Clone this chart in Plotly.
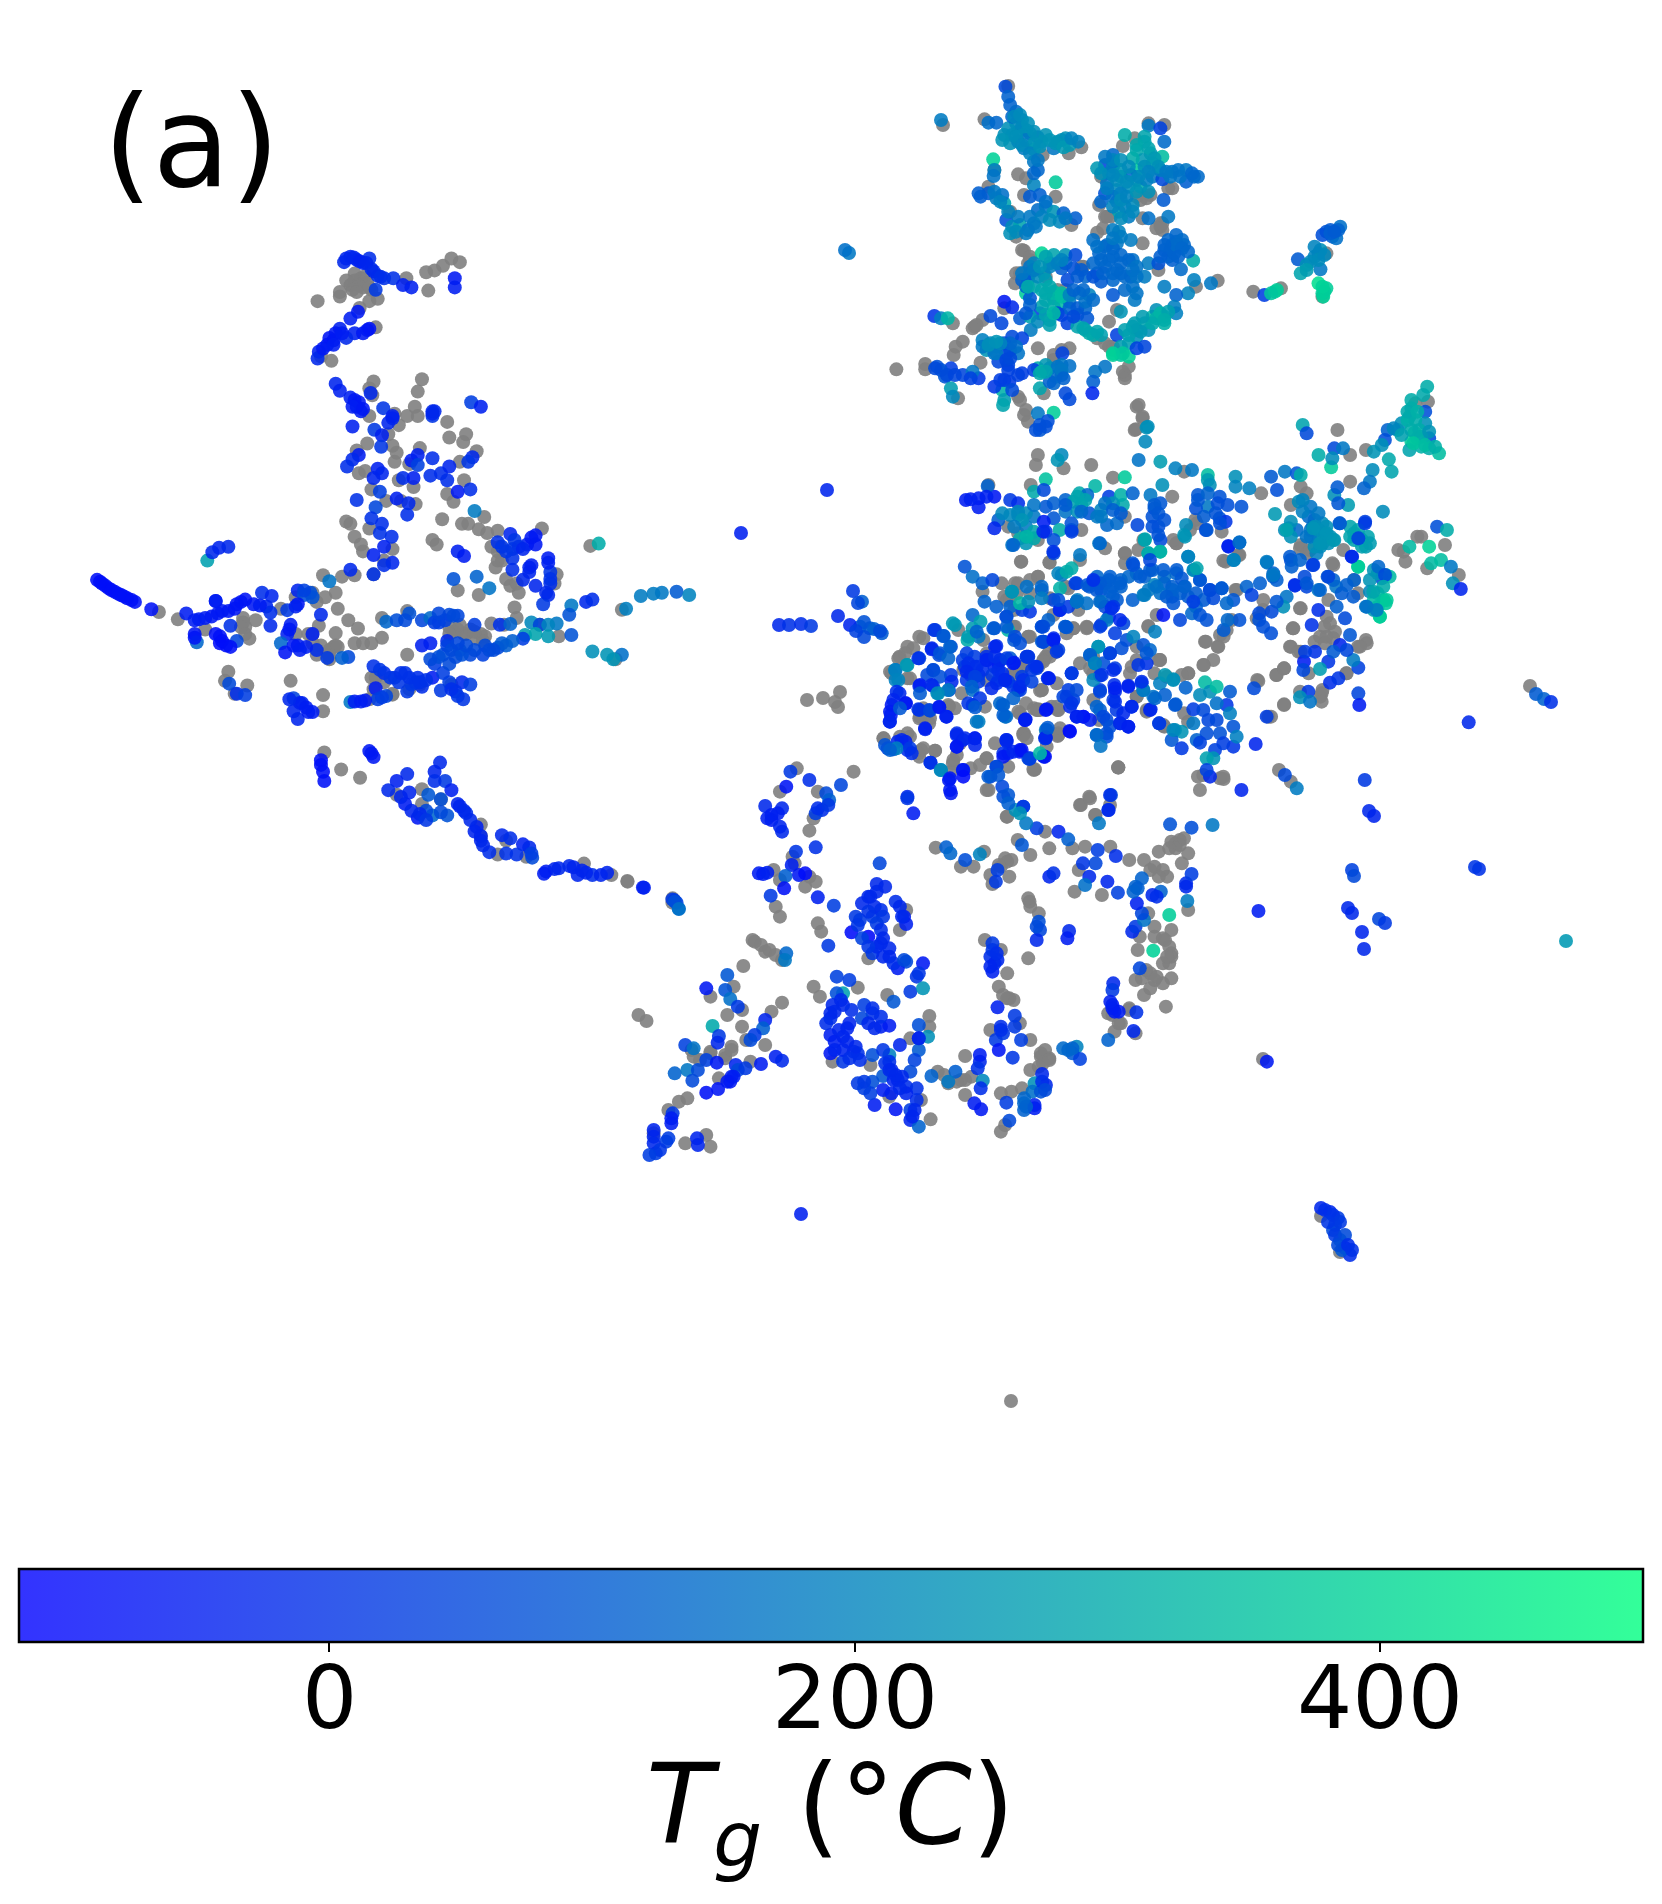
import plotly.graph_objects as go

# Values. Each group of embedding points is given in a local
# reading frame; FRAMES converts it to the embedding's own common coordinates.
FRAMES = {
    "left": (60, 230, 2.376, 2.178),
    "top": (860, 60, 2.53, 3.0),
    "main": (860, 380, 2.53, 3.0),
    "low": (620, 760, 2.376, 3.0),
    "hi": (1000, 520, 3.0, 3.0),
    "hj": (880, 620, 3.0, 3.0),
    "abs": (0, 0, 1.0, 1.0),
}

left_gray = [(700,110),(715,105),(730,115),(690,120),(740,130),(665,145),(612,155),(735,155),(755,150),(870,92),(890,88),(910,78),(930,62),(950,70),(875,132),(823,105),(712,170),(750,212),(645,285),(620,275),
(745,330),(735,345),(860,325),(850,352),(742,360),(843,385),(795,400),(825,405),(850,405),(805,425),(735,405),(920,418),(925,452),(965,445),(958,462),(780,445),(790,470),(855,475),(800,485),(795,505),(730,465),(705,480),(725,525),(710,530),(990,482),(950,505),(960,545),(830,510),(840,560),(805,545),(920,575),(935,592),(740,565),(775,590),(810,590),(845,597),(680,635),(690,640),(735,650),(700,668),(715,685),(720,700),(790,695),(908,630),(955,640),(970,640),(995,652),(1015,660),(1040,655),(1008,625),(1145,650),(885,675),(895,685),(1040,700),(1050,720),(1025,690),(1180,750),(1070,775),(1090,790),(1175,770),(770,720),(745,750),(700,752),(670,755),(625,752),(655,790),(600,790),(560,800),(610,810),(630,800),(660,825),(685,850),(708,868),(655,878),(700,900),(720,900),(740,900),(765,888),(765,845),(825,830),(825,925),(1025,857),(1080,822),(1085,845),(1055,860),(945,870),(965,880),(925,865),(990,890),(1010,885),(1185,885),(1140,860),(1335,827),(945,785),(995,795),
(1260,688),(235,832),(280,848),(465,850),(435,845),(440,865),(450,890),(345,870),(525,825),(400,962),(392,982),(445,992),(415,1010),(548,982),(625,1013),(625,1048),(600,880),(615,862),(650,908),(610,925),(640,935),(560,880),(790,1012),(740,975),(745,1000),(735,1022),(930,990),(1320,935),
(628,1138),(668,1175),(713,1193),(860,1218),(905,1240),(860,1250),(800,1230),(1000,1295),(1108,1365),(1245,1380),(1310,1405),(1348,1418),(1455,1465),(1040,1360),(1060,1330),
(700,95),(710,120),(725,100),(720,125),(695,130),(680,110),(735,125),(705,135),(665,135),(435,855),(440,880),(430,865),(1040,720),(1045,690),(1035,735),(1060,760),(1085,770),(960,880),(935,875),(975,870),(1000,880),(925,880),(950,860),(985,875),(1005,895),(590,880),(620,905),(640,915),(655,905),(640,925),(660,908),(600,900),(770,985),(750,975),(830,1000),(855,990),(790,1010),(1000,1320)]

left_tg = [(88,762,-80),(100,770,-80),(115,780,-80),(130,788,-80),(145,795,-75),(160,802,-75),(178,810,-75),(217,826,-75),
(675,70,-20),(690,58,-30),(705,65,-30),(720,72,-30),(735,62,-10),(740,85,-10),(755,100,-10),(770,105,0),(792,105,0),(750,130,20),(815,120,-40),(835,125,-40),(938,105,-60),(938,125,-50),
(708,178,-60),(690,193,-50),(730,218,-60),(700,225,-40),(665,215,-40),(650,240,-60),(635,250,-50),(615,265,-40),(612,280,-20),(680,235,-20),
(655,335,-30),(665,350,-40),(690,365,-40),(705,385,-60),(715,395,-50),(738,355,-20),(695,428,-40),(768,388,10),(790,410,-30),(780,420,-30),(885,395,-20),(885,405,10),(977,375,30),(1000,385,-40),
(747,435,20),(765,447,-40),(763,472,10),(710,490,-50),(695,500,-20),(682,515,-10),(755,520,-40),(745,540,-30),(765,530,-30),(835,502,-50),(850,490,-40),(885,497,-10),(850,512,40),(905,530,-10),(880,535,-10),(925,515,-30),(815,540,-10),(840,540,-40),(980,495,-20),(970,505,10),(920,545,-10),(945,570,-60),(975,565,-10),(985,612,180),
(705,588,0),(760,570,30),(800,585,-40),(828,595,-20),(825,620,-10),(750,604,50),(740,628,0),(765,640,-10),(788,668,-10),(760,660,0),(770,690,-40),(745,708,-40),(790,725,-30),(770,730,-10),(690,740,-20),(745,750,0),(640,765,160),
(935,760,80),(990,755,120),(1020,780,160),(945,700,-40),(960,710,-50),
(350,720,270),(362,702,-20),(378,692,-30),(400,690,-20),
(1040,680,0),(1070,662,-30),(1075,695,10),(1130,665,-60),(1110,685,-40),(1075,715,0),(1075,740,-10),(1115,735,-30),(1100,762,-20),(1160,715,-50),(1165,745,10),(1165,770,-10),(1130,775,-30),(1160,795,-20),(1148,815,20),
(1280,683,300),(1380,797,180),(1410,792,180),(1430,790,170),(1465,788,100),(1495,795,200),(1345,825,190),(1215,818,170),(1210,838,80),(1250,810,-20),(1265,805,-10),(1215,882,80),(1265,918,230),(1300,925,240),(1335,925,150),(1315,935,240),
(480,790,-10),(503,797,-30),(370,808,-40),(430,810,-70),(400,830,-60),(300,835,-50),(320,850,-50),(345,845,-50),(375,835,-60),(460,815,-60),(490,820,-30),(500,833,-10),(405,862,0),(320,880,-70),(325,898,130),(380,885,-80),(395,905,-80),(420,895,50),(500,862,-20),
(565,785,-30),(580,795,70),(600,800,80),(565,815,-60),(540,828,20),(620,838,-20),(548,860,-50),(540,880,-40),(600,880,-40),(525,900,130),(535,920,-70),(565,905,-50),(610,915,-10),(635,932,20),(685,930,60),(670,932,110),
(775,853,130),(800,850,70),(830,835,80),(860,850,50),(880,845,140),(900,855,30),(925,838,60),(945,840,50),(985,860,30),(1045,860,0),(1070,858,120),(1120,855,210),(1140,860,50),(1180,857,170),(1160,860,200),(1105,882,260),(1130,880,280),(1160,885,250),(1100,890,30),
(860,905,-40),(880,900,-40),(920,895,-20),(950,915,110),(910,925,70),(940,930,60),(975,925,50),(1010,905,60),(1060,905,110),(1040,910,60),(1075,895,110),(1005,925,40),(890,945,30),
(745,950,0),(770,965,-10),(795,975,0),(820,965,0),(850,975,-10),(835,990,10),(860,995,-10),(825,1005,20),(885,975,-50),(910,965,30),(955,985,-20),(975,990,30),(940,1005,0),(958,1022,10),(905,1003,20),(750,998,-50),
(690,1028,170),(715,1027,-40),(755,1022,30),(775,1015,50),
(402,988,60),(420,1010,-10),(440,1013,30),
(555,1020,50),(575,1030,-30),(600,1050,-50),(555,1048,-30),(565,1065,-30),
(620,1165,-80),(628,1200,-80),(735,1135,-60),(745,1148,-60),
(825,1185,-20),(800,1200,-40),(780,1220,-20),(830,1225,-30),(820,1250,-50),(850,1280,-60),(903,1160,-20),(890,1180,-30),(915,1200,20),(875,1230,90),(905,1240,70),(930,1220,-40),(945,1250,-30),(965,1270,-10),(990,1300,-40),(1000,1330,-30),(1020,1355,-10),(885,1275,130),(920,1275,80),(870,1265,60),
(1050,1318,-20),(1070,1325,-10),(1100,1338,-40),(1115,1345,-20),(1060,1358,0),(1085,1360,0),(1122,1367,60),
(1155,1397,-50),(1185,1390,-20),(1210,1385,-20),(1240,1395,-30),(1265,1405,-10),(1300,1400,-30),(1230,1405,-30),(1385,1432,-50),(1460,1460,30),(1470,1478,150),
(95,766,-85),(108,775,-85),(122,784,-85),(138,792,-80),(152,798,-80),(170,806,-80),(680,62,-30),(698,60,-30),(712,68,-40),(728,72,-30),(745,90,-20),(762,102,-10),(640,235,-70),(655,225,-60),(625,258,-60),(670,225,-50),(650,250,-50),(720,225,-60),(735,215,-70),(700,370,-60),(710,375,-60),(695,385,-50),(720,390,-60),(790,405,-40),(885,400,-30),(890,395,-20),
(1080,675,10),(1090,690,0),(1060,700,10),(1100,695,-30),(1120,670,-60),(1130,685,-60),(1050,690,10),(1115,745,-30),(1160,725,-40),(1165,760,0),(1155,790,-20),(1120,730,-40),
(420,815,-70),(440,805,-70),(415,825,-70),(385,830,-60),(475,818,-50),(360,842,-60),(330,848,-50),(370,808,-50),(380,900,-90),(370,880,-80),(385,895,-85),(405,908,-80),(320,888,-70),(560,820,-40),(555,905,-60),(570,915,-50),(585,908,-40),(545,870,-60),(595,790,70),(580,785,40),
(820,850,60),(890,855,30),(915,850,40),(935,840,60),(900,835,50),(920,905,40),(930,915,60),(955,925,70),(965,905,60),(985,915,60),(1020,915,60),(900,930,70),(925,945,60),(880,935,60),(945,900,50),(1050,900,100),(1030,915,60),
(760,958,10),(785,975,10),(805,985,10),(845,985,10),(830,975,0),(855,985,0),(870,980,0),(810,965,0),(925,985,30),(945,1015,10),(930,1000,-10),(700,1027,-50),(725,1025,-50),(765,1018,30),
(570,1030,-40),(585,1040,-50),(590,1050,-50),(545,1022,-20),
(620,1155,-80),(625,1180,-80),(740,1140,-60),
(950,1255,-30),(960,1265,-20),(975,1285,-20),(985,1310,-30),(1000,1320,-30),(1005,1340,-20),(835,1265,-30),(855,1272,-20),(870,1285,10),(905,1268,60),(810,1235,-30),(890,1200,-10),
(1175,1392,-30),(1220,1388,-30),(1250,1400,-30),(1285,1405,-30),(1150,1402,-50),(1120,1358,30),(1455,1458,20),(1465,1465,40)]

top_gray = [(375,78),(210,195),(315,178),(560,262),(462,285),(528,280),(695,235),(730,190),(770,195),(665,258),(400,343),(420,355),(340,330),(325,380),(415,405),(495,410),(380,455),(535,495),(395,530),(610,350),(605,435),(620,470),(635,470),(615,505),(600,518),(715,475),(760,490),(765,510),(790,385),(725,415),(700,410),(715,550),(755,630),(905,662),(415,572),(430,600),(405,640),(392,670),(565,620),(995,695),(1065,685),(1170,710),(1180,580),(650,750),(630,785),(290,800),(310,780),(365,745),(235,790),
(260,845),(242,860),(237,885),(92,928),(165,912),(165,928),(305,908),(248,1015),(400,1010),(420,1050),(425,1085),(450,865),(490,885),(530,865),(465,1000),(670,945),(680,920),(640,860),(620,850),(700,1040),(715,1075),(698,1108),
(410,570),(430,590),(425,610),(500,690),(520,690),(470,650),(395,640),(600,835),(630,860),(640,870),(285,805),(295,795),(760,500),(765,490),(750,505),(780,385),(710,420),(735,405),(625,470),(670,955),(665,935),(405,1020),(415,1065),(560,620),(850,680),(510,870),(490,900)]

top_tg = [(368,80,60),(375,110,120),(380,135,120),(395,155,140),(410,180,210),(325,188,150),(205,180,180),(345,188,130),(365,225,230),(400,215,220),(420,210,220),(450,232,100),(470,225,240),(510,240,230),(530,255,250),(552,245,200),(380,250,240),(415,265,180),(440,268,310),(490,265,170),(440,305,170),(450,330,130),
(337,298,390),(340,330,190),(338,348,160),(495,367,370),(440,375,200),
(300,400,110),(325,400,100),(345,415,180),(365,430,280),(360,405,150),(430,410,100),(455,405,110),(450,450,140),(470,440,170),(490,455,240),(515,460,120),(545,475,110),(505,485,210),(370,480,80),(385,500,220),(405,495,280),(440,490,200),(380,520,230),(425,510,150),
(670,225,300),(730,197,170),(760,205,40),(770,245,140),(720,245,270),(700,270,290),(735,280,250),(765,290,340),(640,285,130),(620,315,50),(600,325,250),(640,320,200),(660,350,280),(625,370,160),(620,400,80),(650,390,220),(700,330,380),(685,345,140),(740,310,270),(710,380,290),(740,350,170),(765,358,60),(790,335,160),(825,330,170),(825,365,110),(855,350,140),(768,420,100),
(610,425,130),(650,425,190),(690,435,220),(655,455,280),(680,470,180),(730,475,150),(780,470,170),
(655,515,200),(590,540,150),(685,540,180),(625,555,130),(650,550,170),(610,600,130),(640,590,130),(660,610,130),(690,600,150),(730,610,180),(755,610,80),(800,545,130),(785,570,130),(770,570,110),(820,555,130),(790,600,110),(843,602,300),
(812,628,140),(845,660,190),(770,680,180),(830,700,200),(800,705,120),(888,670,170),
(1023,705,30),(1050,695,370),
(1215,500,150),(1180,515,80),(1195,530,100),(1205,535,150),(1160,580,230),(1108,598,100),(1130,615,230),(1165,628,170),(1115,640,280),(1160,670,420),(1175,695,390),(1172,710,390),
(460,580,400),(490,585,280),(520,585,240),(545,585,60),(480,610,200),(510,625,100),(540,625,70),(430,640,180),(425,660,90),(465,640,240),(420,700,380),(440,680,270),
(525,660,60),(570,650,130),(600,640,80),(640,660,130),(610,665,100),(685,650,70),(720,650,180),(670,690,140),(695,720,170),(640,705,90),
(490,695,330),(490,715,200),(470,720,290),(510,730,340),(530,725,170),(580,705,200),(570,745,130),(430,715,90),(365,725,-60),(385,742,-20),
(455,760,30),(510,765,40),(405,775,90),(430,770,280),(550,765,60),(480,780,280),(525,790,40),(575,775,90),(330,768,60),(358,790,50),(660,755,240),
(550,800,280),(580,820,300),(610,825,270),(650,825,40),(695,790,260),(740,770,330),(770,770,340),(795,740,190),(800,760,190),(730,810,230),(700,830,230),(680,850,270),(640,885,380),(680,890,390),(700,865,40),(720,860,50),(750,750,230),
(432,810,180),(410,835,40),(385,830,60),(345,860,300),(310,840,190),(320,870,240),(365,850,60),(400,880,160),(350,905,50),(375,915,50),(410,940,30),(378,965,20),(360,990,310),(340,980,10),
(195,920,80),(230,925,30),(260,945,50),(300,955,20),(285,935,170),(215,950,90),(230,985,260),(235,1010,210),
(512,880,40),(450,925,300),(470,915,250),(510,915,170),(530,918,150),(440,930,30),(490,970,130),(455,985,280),(520,1000,60),(530,1018,60),(620,920,160),(595,935,160),(590,965,110),(588,1000,-30),(365,1020,260),(362,1035,280),
(188,768,10),(205,775,190),(222,775,320),(450,1060,170),(490,1058,380),(475,1083,70),(455,1110,90),(728,1100,220),
(410,200,230),(395,190,210),(430,220,230),(385,225,230),(400,245,210),(420,240,170),(440,250,240),(500,245,240),(520,235,230),(460,245,240),(375,205,230),(385,170,130),(440,340,130),
(720,230,280),(700,255,290),(730,265,280),(745,295,250),(715,300,250),(690,295,300),(660,330,240),(640,305,170),(650,360,220),(680,380,230),(700,360,230),(725,360,190),(760,330,180),(785,350,170),(805,330,160),(845,350,140),(630,340,180),(640,410,150),(660,400,190),(670,440,200),(660,475,220),(690,455,210),
(620,560,140),(640,565,130),(630,600,130),(650,630,130),(620,620,130),(590,610,130),(605,580,130),(660,585,130),(680,600,130),(670,650,140),(690,680,150),(700,700,160),(660,640,130),(780,540,130),(800,525,130),(815,540,140),(790,555,130),(780,590,120),(795,580,120),(760,590,110),
(430,620,160),(410,660,120),(420,680,120),(450,650,220),(470,660,250),(480,620,200),(500,610,190),(520,610,100),(560,630,100),(590,650,80),(550,650,100),(510,600,200),(470,590,270),(440,610,200),
(490,700,330),(510,700,340),(470,700,290),(490,740,300),(460,740,280),(530,745,120),(550,745,100),(430,735,120),(420,760,90),(570,725,150),(450,785,210),(480,795,270),(500,760,50),(540,770,60),
(570,810,290),(590,825,290),(750,775,310),(770,790,310),(720,790,280),(700,810,260),(680,825,270),(710,815,250),(660,885,360),
(380,870,90),(370,880,60),(330,850,200),(340,880,160),(310,860,170),(395,860,150),(375,930,40),(365,960,30),(385,990,60),(355,960,30),(400,945,40),
(205,930,80),(220,945,60),(240,945,50),(280,955,40),(190,925,60),
(460,935,320),(480,925,230),(500,920,160),(495,950,150),(480,965,120),(510,945,130),(1150,590,200),(1190,510,100),(1170,525,70),(1140,605,220),(1165,570,230),(1055,690,380),(1040,700,360),
(455,1095,80),(470,1100,70),(445,1110,70),
(390,170,210),(405,165,220),(425,190,230),(440,215,230),(395,230,230),(410,255,220),(430,280,200),(450,300,170),(455,260,230),(480,240,240),(495,250,240),(515,262,250),(535,235,200),(360,240,240),
(305,410,110),(340,395,170),(355,425,200),(375,455,200),(400,470,180),(430,470,170),(460,470,190),(480,480,220),(520,475,170),(395,515,220),(420,520,180),(445,500,170),(470,425,150),
(640,300,200),(620,290,170),(610,340,230),(660,300,230),(680,320,220),(720,320,230),(755,320,230),(730,335,200),(705,350,210),(675,365,220),(640,345,210),(625,385,190),(640,440,200),(660,420,220),(675,410,200),(775,335,170),(810,350,160),(840,340,130),(700,395,240),(730,395,230),
(640,510,180),(660,530,180),(640,535,170),(600,560,150),(615,640,120),(640,640,130),(700,620,160),(700,650,160),(690,630,150),(800,555,140),(815,565,130),(770,555,120),(805,590,120),(830,575,130),
(425,680,300),(410,640,170),(440,630,180),(455,620,240),(460,690,290),(480,680,290),(470,765,280),(490,760,330),(510,710,340),(530,705,200),(555,700,150),(565,690,130),(590,720,140),(540,690,120),
(760,760,320),(780,755,270),(740,790,290),(715,770,260),(690,800,260),(670,810,270),(660,860,260),(640,880,390),(665,880,370),(600,815,280),(565,805,280),(770,780,300),
(1160,600,220),(1175,585,210),(1130,630,260),(1190,520,110),(1210,510,120),(1200,515,100),(1150,560,200),(1170,700,380),(1180,685,380),(1170,680,390),
(380,850,130),(345,880,170),(355,850,200),(370,900,50),(380,895,60),(345,845,240),(325,855,230),(510,930,170),(470,935,280),(455,940,290),(515,955,120)]

main_gray = [(1437,65),(1405,70),(1280,210),(705,75),(1208,150),(695,150),(715,110),(450,225),(445,255),(515,265),(1240,225),(640,293),(820,275),(1240,305),(1115,320),(1130,340),(1090,375),(1015,340),(790,350),(585,255),
(325,315),(432,315),(375,440),(400,460),(450,480),(620,505),(670,520),(407,545),(480,548),(450,590),(400,610),(365,650),(310,635),(390,690),(430,770),(520,620),(575,742),(540,745),(470,830),(495,805),(590,880),(590,830),(700,800),(755,840),(745,880),(830,880),(870,855),(905,800),(875,785),(920,770),(830,1025),(820,1000),(1053,885),(1073,865),(1005,900),(1073,973),(1040,1010),(1115,685),(1095,745),(1090,800),(1115,815),(1180,770),(1150,785),(1175,740),(1185,660),(1260,640),(1165,950),(1170,930),(1135,880),(1230,880),(1280,780),(1260,800),(1195,550),(1115,495),(1130,520),(1250,600),(950,630),(925,545),(960,525),(1420,470),(1375,515),(1380,545),(1435,565),(1480,495),(1410,470),(1515,585),(800,490),(670,410),(848,420),(915,455),(150,770),(120,800),(100,830),(80,880),(120,895),(225,980),(150,1015),(175,1030),(240,985),(320,900),(420,970),(460,930),(450,990),(500,990),(1020,690),(560,450),
(60,1075),(120,1060),(155,1110),(190,1112),(150,1130),(245,1125),(235,1150),(230,1175),(280,1165),(320,1135),(375,1160),(325,1230),(440,1170),(415,1060),(500,1068),(440,985),(580,1250),(653,1162),(605,1020),(770,1040),(855,1190),(920,1197),(860,1230),(1060,1170),(1090,1205)]

main_tg = [(1435,20,300),(1425,45,290),(1395,85,310),(1430,95,70),(1370,130,230),(1335,150,120),(1328,180,70),(1300,215,240),(1403,158,400),(1440,175,60),(1395,185,380),(1430,130,230),(1420,200,310),(1465,220,340),(1390,210,280),(1390,110,320),(1415,150,300),(1360,150,250),(1410,175,320),(1440,205,300),(1395,60,300),(1320,195,230),(1350,145,200),
(1120,135,280),(1130,160,60),(725,143,230),(722,185,210),(1200,205,60),(1222,205,170),(1160,225,300),(1192,262,370),(1195,235,220),(705,240,160),(760,245,260),(798,265,190),(840,270,170),(880,285,340),(880,300,260),(510,225,210),(500,240,240),(1338,238,290),(1345,275,280),(1297,270,220),(950,290,230),(1040,290,100),(1075,275,170),(1105,280,90),(1115,285,300),(1290,305,170),(1275,325,120),(670,292,370),(470,298,350),
(268,360,-50),(300,355,-40),(340,350,-60),(323,318,120),(300,382,-50),(380,360,20),(400,370,-10),(440,335,290),(465,330,60),(490,370,110),(520,360,120),(555,340,290),(595,318,320),(575,345,130),(560,375,280),(520,395,160),(490,415,90),(440,410,170),(380,405,210),(350,420,110),(340,445,-30),(385,495,170),(420,470,290),(465,425,-50),(470,455,10),(490,520,50),(505,450,300),(535,450,50),(490,480,70),(580,400,90),(610,390,200),(630,350,30),(660,345,310),(665,375,290),(690,340,120),(625,435,130),(605,490,180),(650,430,140),
(280,358,-40),(320,350,-40),(420,400,220),(400,405,210),(360,400,210),(420,440,180),(405,475,300),(440,455,280),(540,365,280),(550,395,230),(640,370,240),(610,410,170),(535,430,80),
(765,315,230),(735,345,170),(745,385,90),(760,370,90),(740,410,80),(755,440,70),(760,480,60),(702,435,50),(825,435,220),(820,465,240),(720,480,260),(730,520,270),(760,515,340),
(885,315,230),(855,345,90),(880,380,170),(910,350,80),(930,375,70),(965,380,80),(850,385,70),(910,415,80),(925,425,10),(875,450,40),(960,487,150),(932,500,-30),(945,540,170),
(950,320,200),(985,325,190),(1055,330,70),(1050,402,250),(1110,365,220),(1200,345,230),(1208,322,100),(1235,375,260),(1210,370,90),(1323,395,220),(1278,425,40),(1213,430,110),
(1150,420,160),(1085,445,240),(1105,450,140),(1175,460,220),(1140,450,160),(1185,490,230),(1155,520,190),(1250,460,270),(1265,475,40),(1280,500,260),(1240,440,280),(1245,530,20),(1260,560,380),(1460,440,70),(1485,450,300),(1440,500,390),(1390,500,330),(1445,550,330),(1470,540,340),(1495,560,170),(1500,610,230),(1520,627,-30),
(1170,430,220),(1190,470,230),(1160,480,220),(1165,500,220),(1145,440,160),(1135,410,140),(1270,500,270),(1285,470,280),
(1090,540,70),(1145,555,40),(1183,590,100),(1030,548,140),(1045,590,100),(1125,590,60),(1100,615,-20),(1130,620,50),(1160,630,170),(1250,600,120),(1205,620,160),
(1300,570,240),(1330,585,340),(1320,595,60),(1290,635,210),(1325,660,370),(1280,680,170),(1315,710,390),(1300,690,260),
(265,560,80),(285,590,150),(310,610,120),(335,600,50),(385,635,230),(460,630,110),(510,585,170),(535,565,300),(545,610,30),(590,605,100),(630,600,100),(610,630,70),(660,600,120),(690,550,90),(720,590,120),(745,615,200),(770,590,150),(800,580,130),(830,530,170),(845,570,270),(860,600,90),(820,620,90),(885,630,70),(915,625,120),(790,650,80),(720,645,190),(690,660,110),(650,660,100),(610,665,200),(550,660,190),(505,690,10),(490,660,50),
(5,665,110),(0,740,120),(25,745,100),(55,760,100),
(235,730,250),(285,745,260),(285,705,130),(305,725,270),(315,665,120),(345,680,110),(300,770,170),(190,750,40),(212,768,130),(272,780,300),(370,710,40),(340,745,80),(375,750,320),(430,695,10),(410,690,30),(380,680,120),(460,740,90),(490,775,-20),(460,785,100),(520,740,170),(345,798,-10),(390,780,90),
(120,855,250),(90,870,110),(90,900,190),(182,805,-30),(230,800,60),(200,825,50),(150,835,50),(185,870,70),(170,885,60),(230,885,20),(150,918,-10),(185,918,10),(225,930,50),(198,940,250),(100,940,-20),(80,975,-60),(115,970,-70),(78,1005,-50),(75,1025,-40),(150,990,30),(175,990,40),(200,980,-50),(218,1010,-30),
(290,830,30),(265,860,10),(320,840,-10),(340,860,-30),(380,835,100),(425,830,10),(390,848,-50),(435,870,10),(300,885,40),(350,900,30),(400,930,-20),(285,930,150),(375,905,20),(285,975,0),(300,1025,190),(360,975,180),(370,1010,130),(418,1020,-50),(350,850,-50),(270,900,10),(410,890,30),
(165,1048,-30),(245,1060,-10),(290,1075,-40),(260,1080,-40),(245,1100,-50),(95,1085,-30),(115,1085,-40),(120,1110,-10),(70,1105,40),(85,1108,110),(370,1080,-30),(405,1110,-60),(375,1120,-40),(465,1130,-60),(430,1135,10),(205,1170,210),(178,1148,-10),(260,1170,-40),(225,1200,-60),(230,1240,-60),(330,1190,60),(345,1160,30),(360,1220,50),(375,1245,90),(120,1250,-20),(635,1245,60),(1075,1185,60),(1105,1225,180),(1277,1200,20),(965,1230,-30),(1540,1027,-20),
(475,895,-10),(470,990,-60),(470,1050,180),(470,1075,-20),(530,1053,-80),
(600,610,120),(620,610,110),(640,620,110),(660,620,120),(600,590,130),(580,620,100),(680,590,130),(700,580,130),(740,570,120),(770,610,120),(790,620,110),(810,640,110),(830,650,100),(850,640,100),(870,660,100),(850,680,110),(840,700,130),(790,630,120),(760,640,150),(730,630,170),(640,650,110),(620,680,60),(630,710,-10),(610,735,20),
(1150,440,230),(1180,440,230),(1200,480,240),(1170,490,240),(1150,500,230),(1140,470,170),(1160,450,230),(1130,470,160),(1090,470,230),(1075,450,220),(1090,425,230),(1250,480,280),(1270,480,280),(1240,470,280),(1260,450,280),(1290,490,260),(1310,640,340),(1330,670,370),(1310,680,370),(1300,660,330),(1290,600,240),(1310,580,240),(1340,590,330),
(1140,380,160),(1120,360,200),(1120,395,190),(1160,400,170),(1385,120,310),(1405,120,300),(1395,150,300),(1370,165,270),(1420,170,300),(1440,155,240),(1400,190,360),(1430,195,340),(1455,200,310),(1385,95,290),(1410,95,310),
(745,375,100),(755,400,90),(770,420,80),(740,440,70),(855,360,90),(880,340,120),(905,370,70),(900,400,80),(870,410,100),
(550,350,280),(570,360,280),(560,395,130),(520,375,100),(470,380,90),(440,375,160),(400,395,210),(410,420,240),(390,440,180),(420,490,240),(440,475,290),(620,370,160),(640,390,110),(660,400,100),(600,410,170),
(270,820,30),(290,860,20),(310,870,-10),(260,840,30),(280,885,10),(335,885,20),(350,870,-10),(300,905,20),(320,830,-10),(360,880,-10),
(1010,720,80),(1020,740,70),(1040,760,70),(960,720,80),(920,750,100),(930,720,130),(1010,700,60)]

low_gray = [(420,25),(555,35),(470,95),(380,95),(460,175),(450,212),(410,290),(365,330),(380,360),(440,380),(465,365),(370,440),(380,470),(470,490),(478,515),(18,365),(125,415),(315,540),(335,555),(355,570),(385,600),(293,618),(460,680),(475,710),(385,728),(565,683),(635,705),(44,765),(63,783),(290,800),(255,765),(290,750),(215,710),(270,680),(360,755),(300,840),(345,855),(265,860),(215,880),(175,890),(235,955),(160,1015),(140,1025),(115,1050),(80,1120),(205,1125),(155,1150),(215,1160),(310,905),(595,915),(505,905),(735,768),(735,800),(690,835),(738,1078),(640,1010),(715,1020),(665,510),(680,450),(590,595),
(750,263),(810,320),(840,320),(865,275),(920,305),(905,320),(880,345),(925,350),(885,372),(975,285),(1020,265),(945,240),(1010,215),(1075,265),(1105,260),(1165,260),(1210,300),(1245,300),(1090,330),(1080,395),(1145,405),(1270,320),(1290,330),(1335,310),(1280,275),(1350,280),(1330,240),(1310,245),(1300,350),(1350,450),(1255,460),(1270,500),(1310,510),(1270,530),(1235,530),(1295,540),(1230,570),(1310,580),(1305,610),(1260,640),(1270,660),(1290,670),(1225,660),(1245,705),(1297,740),(1210,745),(1170,765),(1190,790),(1225,820),(1175,815),
(973,425),(995,460),(970,595),(867,540),(905,570),(920,640),(900,680),(920,715),(935,720),(880,810),(950,790),(820,888),(975,840),(1000,880),(1020,895),(1005,910),(975,930),(905,1000),(930,995),(955,985),(820,1005),(905,1115),(915,1095),(780,970),(810,960),(835,950),(755,935),(1095,135),(1130,165),(920,170),
(320,545),(345,575),(370,585),(415,310),(450,350),(1305,560),(1310,590),(1290,535),(1275,650),(1240,655),(1310,655),(1260,685),(1290,610),(1300,590),(1250,630),(1185,790),(1000,890),(1010,870),(1020,900),(995,920),(925,715),(910,705),(820,960),(800,965),(770,945),(915,295),(930,300),(900,315),(1320,250),(1340,235),(1320,265),(1305,265),(1330,255),(1280,350),(1260,330),(170,870),(215,875),(250,885),(250,895),(265,870),(190,900),(975,440),(970,415),(1210,750),(1160,760)]

low_tg = [(405,35,20),(395,80,-70),(450,60,-10),(525,75,50),(490,100,60),(497,120,110),(480,150,-10),(465,160,30),(345,138,-20),(385,145,-20),(360,180,-50),(385,215,-20),(465,262,0),(418,275,10),(408,315,-40),(340,342,-50),(425,345,-60),(440,340,-90),(393,348,110),(390,385,-80),(358,407,20),(470,412,-40),(508,437,30),(57,383,-40),(130,425,70),(140,447,150),
(617,310,50),(610,372,-20),(590,410,-20),(630,380,-20),(655,425,-10),(675,470,-40),(680,492,-40),(570,480,20),(600,470,20),(550,517,-90),(590,530,-100),(575,535,40),(620,550,-20),(600,580,20),(640,590,-30),(495,557,20),(680,605,60),(720,610,-60),(660,625,-50),(705,650,10),
(395,580,130),(392,600,170),
(515,650,40),(545,660,30),(530,700,270),(515,700,70),(690,695,20),(720,685,240),(650,725,90),(505,735,-20),(530,735,-20),(500,775,-10),(545,790,-30),(580,735,30),(600,760,0),(620,800,-40),(640,797,-50),(575,775,50),(710,795,70),
(500,825,-40),(530,830,-20),(510,845,-40),(560,860,-20),(500,880,-60),(530,905,10),(565,880,0),(600,885,70),(640,885,190),(665,855,-30),(710,835,-20),(732,830,230),(710,870,100),(700,900,40),(625,870,10),(630,910,0),(645,930,-30),(625,948,90),(660,960,-10),(680,980,-10),(690,935,60),(565,970,20),(580,985,30),(600,965,70),(625,990,-50),(645,1000,-40),(605,1035,-50),(655,1048,-70),(705,1020,-10),(705,985,0),(690,1080,-30),(710,1100,120),(690,1050,30),
(255,645,90),(205,685,-60),(250,690,80),(262,717,150),(280,740,20),(220,798,290),(345,780,-30),(340,805,110),(320,825,20),(310,840,60),(235,828,20),(232,848,-20),(155,855,40),(175,865,160),(205,900,40),(230,908,-60),(130,940,120),(160,930,170),(185,930,60),(172,962,60),(275,915,-30),(280,930,60),(265,950,-50),(298,925,20),(335,912,-50),(370,890,-40),(385,902,-20),(262,965,-60),(233,987,-70),(205,998,-80),(125,1060,20),(122,1090,-50),(80,1130,-20),(85,1180,30),(110,1145,30),(183,1135,-30),(185,1155,-30),
(885,550,20),(880,590,-10),(897,600,-20),(885,635,-40),(995,485,70),(998,510,50),(990,540,-20),(1067,513,-20),(1063,535,-50),(897,742,-40),(938,767,20),(905,800,-10),(938,800,20),(910,820,20),(953,840,30),(893,840,20),(900,870,-70),(933,893,10),(855,905,-20),(855,885,-50),(850,925,0),(740,948,120),(797,935,110),(780,965,170),(862,962,210),(857,985,-10),(842,1030,-50),(858,1048,-60),(1003,942,-20),(1012,975,-20),(985,970,230),(980,995,150),(1000,995,80),(918,1028,30),(960,1030,130),(960,1050,120),(985,1045,-50),(925,1082,60),(1053,865,140),(1085,860,200),(1075,880,100),(1093,897,40),
(1172,670,-20),(1170,690,20),(1170,735,-50),(1185,755,-50),(1227,757,0),(1220,813,-20),(1160,840,120),(1235,625,50),(1305,465,380),(1267,572,390),(1217,515,-20),(1225,500,20),(1245,480,160),(1240,460,50),(1228,430,-40),(1225,380,120),(1240,355,120),(1285,395,120),(1265,405,-20),(1345,370,-10),(1358,342,30),(1348,423,180),(1517,453,-50),(1537,905,-60),
(775,262,110),(785,280,130),(820,300,70),(855,283,200),(955,255,90),(897,330,30),(893,365,20),(1020,350,-30),(1030,340,0),(1100,310,10),(1130,310,50),(1135,270,30),(1178,288,-10),(1115,350,-20),(1105,375,150),(1158,365,-30),(1183,398,40),(1042,215,-30),(1065,238,110),(990,205,30),(958,140,30),(940,150,230),(965,190,170),
(1307,193,80),(1358,203,70),(1408,195,170),(1138,190,170),(1160,150,30),
(360,165,-50),(375,160,-40),(380,200,-30),(470,145,-10),(495,135,10),(350,175,-40),(330,340,-50),(350,338,-40),(595,410,-20),(575,430,-20),(610,395,-20),(605,440,-20),(620,450,-10),(560,470,20),(590,455,0),(625,470,10),(610,490,20),(565,495,10),(620,510,-10),(625,535,-20),(640,565,-20),(610,560,-20),(590,560,10),(625,590,-20),(650,610,-10),(665,440,-20),(670,470,-20),(675,600,60),(710,640,10),
(500,760,-20),(490,790,-10),(525,720,-20),(510,755,-20),(550,750,-10),(600,745,-10),(620,770,-10),(590,790,-20),(605,805,-20),(520,810,-30),(540,805,-30),(540,845,-30),(555,875,-20),(530,870,-30),(570,900,-10),(510,870,-30),(545,895,-10),(640,905,-10),(650,960,-30),(670,950,-20),(680,1000,-30),(700,1050,-20),(695,1070,-30),(665,985,-20),(655,945,-20),(640,930,-20),(580,965,20),(595,1000,30),(710,835,-30),
(885,570,10),(890,610,-20),(880,620,-30),(895,580,-10),(990,500,60),(905,810,-10),(1170,745,-50),(1175,755,-50),(1165,725,-40),(1230,385,110),(1220,395,120),(1275,410,-10),(1345,380,-20),
(270,950,-50),(255,965,-60),(80,1150,-20),(95,1170,10),(70,1185,30),(115,1135,30),(80,1110,-30),(122,1075,-50),
(1003,965,-10),(1075,865,120),(1065,870,130),(985,1035,-40),(960,1015,130),(965,1040,120),(1010,990,60)]

hi_gray = [(64,125),(148,127),(114,170),(5,190),(45,190),(90,180),(20,240),(30,235),(50,220),(90,220),(150,235),(240,120),(205,205),(235,270),(260,320),(220,325),(200,340),(85,350),(45,320),(160,285),(145,400),(130,420),(115,440),(170,395),(60,440),(40,465),(120,512),(170,490),(120,570),(175,570),(155,560),(60,580),(240,430),(270,445),(410,420),(395,440),(480,420),(445,320),(470,285),(530,70),(375,100),(415,90),(375,130),(430,60),(670,122),(715,105),(900,85),(930,90),(1000,135),(1195,90),(1030,90),(900,265),(880,325),(980,290),(990,310),(960,350),(975,370),(1005,335),(1100,370),(1080,380),(1040,460),(1000,355),(870,380),(895,395),(830,465),(852,445),(775,483),(900,515),(965,520),(965,545),(852,555),(805,590),(640,420),(610,435),(655,380),(565,460),(545,465),(500,470),(440,570),(410,530),(490,615),(355,743),(105,748),(175,640),(70,640),(660,775),(670,770),(610,765),(695,300),(770,295),(790,240),(680,330),(710,210),(660,345),(615,365),(520,60),(590,10),(570,30),(280,540),(110,570)]

hi_tg = [(330,170,110),(300,190,100),(360,190,110),(290,210,90),(330,215,110),(400,135,70),(420,170,100),(450,150,100),(490,150,100),(530,150,100),(545,175,90),(580,150,210),(600,180,90),(555,200,120),(430,225,180),(470,200,150),(500,230,100),(520,250,90),(490,285,-70),(540,300,50),(580,245,30),(600,285,80),(620,300,80),(630,210,60),(640,235,60),(665,205,90),(700,240,90),(680,250,130),(740,200,120),(780,190,110),(820,160,120),(830,180,110),(755,225,40),(885,197,-10),(920,190,90),(960,210,120),(860,230,160),(850,260,230),(815,275,60),(830,245,90),
(340,260,10),(320,300,180),(300,320,30),(370,310,50),(345,340,30),(380,360,70),(400,350,200),(465,335,190),(430,375,80),(450,390,130),(365,385,70),(330,400,40),(295,380,230),(270,405,90),(285,430,190),(310,430,70),(345,445,30),(440,430,0),(415,435,10),(440,400,90),(145,475,10),(215,460,10),(105,440,10),(85,410,20),(125,320,70),(200,322,90),(160,360,-60),(130,365,100),(175,390,40),(180,270,-30),(205,260,20),(230,245,100),(260,250,150),(300,245,130),(335,265,-10),(360,300,-20),(205,510,30),(220,540,40),(190,530,50),(210,560,-20),(250,590,-50),(230,590,-30),(270,600,-40),(300,510,20),(300,570,110),(340,540,30),(350,570,20),(320,600,60),(360,610,-40),(385,620,-30),(395,560,10),(320,640,70),(290,645,140),(345,515,-10),(385,497,-20),(343,495,-10),(300,467,0),(425,490,40),(430,510,150),(520,478,230),(480,490,190),(460,530,160),(495,525,110),(527,553,110),(557,503,120),(452,568,-20),(477,610,50),(525,630,230),(545,635,240),(515,660,90),(545,685,20),
(615,487,330),(630,515,230),(650,500,340),(600,525,220),(690,515,100),(680,555,10),(650,550,150),(580,568,30),(610,570,60),(690,580,190),(625,600,50),(650,600,60),(700,620,80),(580,610,170),(590,660,120),(620,640,70),(660,640,80),(700,680,10),(670,670,30),(645,690,40),(640,715,240),(620,715,270),(600,668,40),(710,650,190),(767,672,-30),(630,770,-20),(620,750,40),(800,590,30),(762,505,60),
(1075,520,50),(1078,555,-50),(925,515,20),(900,532,230),(930,545,160),(990,488,-10),(1015,475,10),(1075,443,40),(1060,420,180),(985,425,10),(1020,375,-30),(1040,390,50),(1000,395,100),(960,447,260),(912,425,-50),(910,450,50),(945,395,0),(915,395,30),(1050,345,90),(1035,295,60),(1010,260,110),(1060,230,100),(955,270,-10),(935,315,0),(1025,220,100),(1040,195,110),(1000,180,120),(985,170,50),
(1135,140,130),(1155,165,60),(1150,200,300),(1120,215,280),(1160,240,370),(1140,290,380),(1100,260,150),(1130,270,170),(1075,140,380),(1055,110,-20),(1075,55,40),(1095,10,20),(960,70,240),(1000,60,250),(980,40,240),(940,25,240),(1020,10,100),(860,30,280),(875,140,110),(870,110,100),(900,120,120),(800,125,180),(820,165,170),(940,135,30),
(80,50,320),(40,75,120),(130,35,-20),(215,35,30),(300,70,130),(240,105,170),(160,95,0),(435,58,280),(445,100,300),(480,95,310),(450,120,50),(565,110,200),(590,145,280),(475,45,80),(555,50,240),(620,30,90),(660,10,70),(685,78,-40),(718,68,140),(702,120,200),
(20,290,70),(125,200,130),(80,200,150),(35,215,240),(60,250,330),(85,245,230),(125,235,180),(180,205,310),(175,160,200),(200,155,300),(230,190,40),(262,195,90),(280,180,-10),(175,240,70),(145,300,120),(230,245,160),
(45,350,60),(60,370,70),(130,365,120),(20,320,100),(0,420,-20),(80,410,0),(110,445,30),(40,500,10),(60,510,30),(15,480,-20),(0,550,130),(15,590,150),(75,600,-60),(140,630,130),(135,655,20),(60,695,-60),(20,665,-30),(10,700,-10),(85,715,50),(135,710,-80)]

hj_gray = [(10,355),(60,350),(90,350),(130,385),(165,392),(115,400),(220,420),(240,370),(320,415),(300,435),(320,510),(380,590),(440,355),(430,345),(460,447),(500,380),(345,370),(540,325),(535,345),(475,268),(530,260),(715,442),(600,555),(630,535),(645,585),(690,555),(130,55),(100,85),(75,100),(55,115),(30,155),(90,175),(130,265),(150,295),(120,290),(205,255),(315,260),(245,220),(250,150),(235,30),(310,60),(320,100),(400,20),(445,50),(430,140),(395,160),(490,125),(510,110),(485,210),(620,25),(805,18),(840,120),(750,160),(770,230),(800,275),(850,318),(415,275)]

hj_tg = [(45,150,200),(80,135,250),(55,180,200),(50,215,-10),(40,240,-30),(30,275,-50),(78,250,-60),(60,265,90),(30,305,-30),(120,195,-50),(120,220,100),(115,115,0),(155,88,-20),(180,100,80),(210,80,120),(205,115,120),(160,150,60),(180,170,70),(155,195,-20),(215,185,-20),(205,210,180),(172,220,220),(115,268,0),(150,272,50),(178,262,-60),(200,290,-40),(135,325,-40),(162,30,10),(190,48,90),
(265,50,260),(290,35,120),(225,15,250),(340,25,100),(265,130,-10),(290,140,-10),(320,120,-30),(345,110,-10),(260,155,-20),(285,170,40),(275,200,120),(300,235,10),(265,250,10),(285,262,100),(290,305,170),(345,80,-30),(380,115,30),(400,130,-50),(350,190,-10),(375,180,-20),(420,200,-20),(400,235,120),(430,180,-10),(440,110,10),(470,140,-10),(455,185,40),(507,175,-40),(335,205,-20),
(370,255,110),(370,285,110),(437,298,-40),(500,268,-60),(497,352,-30),(503,323,100),(570,335,-80),(575,160,20),(490,65,50),(520,60,-40),(530,95,20),(490,20,60),(555,20,90),(655,80,240),(630,105,120),(645,130,200),(640,180,210),(665,165,10),(660,215,50),(700,150,-10),(690,100,40),(705,205,-40),(745,200,-40),
(560,230,30),(590,210,60),(575,250,10),(610,290,-70),(590,290,-40),(650,260,120),(670,290,50),(705,245,-10),(690,320,70),(720,310,-20),(745,320,-40),(755,260,-20),(730,280,-20),(680,350,70),(650,345,130),(662,378,160),(790,210,180),(785,185,-10),(810,270,-20),(825,235,130),(855,165,250),(880,180,230),(838,310,20),(885,255,90),(880,330,210),
(230,345,-30),(255,355,-20),(285,355,-40),(230,380,-60),(285,375,-30),(65,360,-30),(50,385,190),(90,385,20),(15,375,80),(30,390,110),(95,400,-10),(152,428,0),(182,450,210),(210,475,-60),(250,450,-60),(250,470,-90),(210,510,-60),(380,360,-20),(370,410,-60),(400,395,-30),(425,390,-70),(448,417,40),(490,408,-60),(480,400,330),(350,440,60),(325,470,100),(355,465,90),(370,530,70),(385,550,110),(430,560,20),(420,580,240),(82,535,10),(100,580,-50),(690,525,0),(686,570,-20)]

abs_gray = [(807,700),(823,698),(835,702),(840,692),(838,707),(1530,686),(1263,1059),(1011,1401),(1321,1216),(1340,1252)]

abs_tg = [(849,253,170),(845,250,150),(827,490,-30),(741,533,-40),(779,625,-20),(789,625,0),(801,624,-10),(811,626,20),(838,616,-20),(853,591,20),(858,603,50),(850,625,-30),(864,622,80),(874,629,110),(864,637,60),(880,631,60),(856,631,40),(801,1214,-40),
(1536,694,100),(1544,699,120),(1551,702,0),(1479,869,0),(1475,867,10),(1566,941,250),(1352,870,40),(1354,876,60),(1348,908,-20),(1352,913,-20),(1362,932,-30),(1364,949,-20),(1379,919,50),(1385,923,20),(1369,811,-20),(1374,816,-30),
(1321,1208,-20),(1330,1212,-20),(1338,1218,30),(1333,1230,60),(1340,1240,150),(1335,1225,40),(1345,1248,-20),(1350,1255,-10),(1342,1250,90),(1335,1235,20),
(1325,1210,-10),(1333,1215,0),(1340,1222,20),(1345,1235,60),(1338,1245,60),(1348,1245,-10),(1352,1250,0),(1328,1222,10)]

tick_values = [0, 200, 400]
tg_min, tg_max = -118, 500
BAR_LEFT, BAR_RIGHT, W, H = 19, 1643, 1662, 1904


def place(rows, frame):
    x0, y0, kx, ky = FRAMES[frame]
    return [x0 + r[0] / kx for r in rows], [y0 + r[1] / ky for r in rows]


gray_x, gray_y, tg_x, tg_y, tg_v = [], [], [], [], []
for rows, frame in [(left_gray, "left"), (top_gray, "top"), (main_gray, "main"), (low_gray, "low"),
                    (hi_gray, "hi"), (hj_gray, "hj"), (abs_gray, "abs")]:
    a, b = place(rows, frame)
    gray_x += a
    gray_y += b
for rows, frame in [(left_tg, "left"), (top_tg, "top"), (main_tg, "main"), (low_tg, "low"),
                    (hi_tg, "hi"), (hj_tg, "hj"), (abs_tg, "abs")]:
    a, b = place(rows, frame)
    tg_x += a
    tg_y += b
    tg_v += [r[2] for r in rows]

FONT = "DejaVu Sans"
fig = go.Figure()
fig.add_trace(go.Scatter(x=gray_x, y=gray_y, mode="markers", showlegend=False, hoverinfo="skip",
                         marker=dict(size=14, color="rgba(128,128,128,0.9)", line=dict(width=0))))
fig.add_trace(go.Scatter(
    x=tg_x, y=tg_y, mode="markers", showlegend=False,
    marker=dict(size=14, color=tg_v, cmin=tg_min, cmax=tg_max, line=dict(width=0), showscale=False,
                colorscale=[[0, "rgba(0,0,255,0.88)"], [1, "rgba(0,255,128,0.88)"]]),
))
# Carries the colour bar only (the bar is paler than the dots, which overlap).
fig.add_trace(go.Scatter(
    x=[None], y=[None], mode="markers", showlegend=False, hoverinfo="skip",
    marker=dict(
        size=1, color=[tg_min], cmin=tg_min, cmax=tg_max,
        colorscale=[[0, "rgba(0,0,255,0.8)"], [1, "rgba(0,255,128,0.8)"]],
        colorbar=dict(
            orientation="h", x=0.5, xanchor="center", xref="paper", y=1 - 1569 / H, yanchor="top", yref="paper",
            len=(BAR_RIGHT - BAR_LEFT) / W, lenmode="fraction", thickness=73, thicknessmode="pixels",
            xpad=0, ypad=0, outlinewidth=2.5, outlinecolor="black", bgcolor="rgba(0,0,0,0)",
            tickmode="array", tickvals=tick_values, showticklabels=False,
            ticks="outside", ticklen=9, tickwidth=1.5, tickcolor="black",
        ),
    ),
))
for v in tick_values:
    fig.add_annotation(text=str(v), x=(BAR_LEFT + (v - tg_min) / (tg_max - tg_min) * (BAR_RIGHT - BAR_LEFT)) / W,
                       y=1 - 1698 / H, xref="paper", yref="paper", xanchor="center", yanchor="middle",
                       showarrow=False, font=dict(family=FONT, size=87, color="black"))
fig.add_annotation(text="<i>T<sub>g</sub></i> (°<i>C</i>)", x=830 / W, y=1 - 1812 / H, xref="paper", yref="paper",
                   xanchor="center", yanchor="middle", showarrow=False,
                   font=dict(family=FONT, size=110, color="black"))
fig.add_annotation(text="(a)", x=0.0605, y=1 - 0.0345, xref="paper", yref="paper", xanchor="left", yanchor="top",
                   showarrow=False, font=dict(family=FONT, size=127, color="black"))
fig.update_layout(
    width=W, height=H, margin=dict(l=0, r=0, t=0, b=0, autoexpand=False),
    paper_bgcolor="white", plot_bgcolor="white",
    xaxis=dict(range=[0, W], visible=False, fixedrange=True),
    yaxis=dict(range=[H, 0], visible=False, fixedrange=True),
)
fig.write_html("out.html", config=dict(displayModeBar=False),
               post_script="document.body.style.margin='0';document.body.style.overflow='hidden';")
